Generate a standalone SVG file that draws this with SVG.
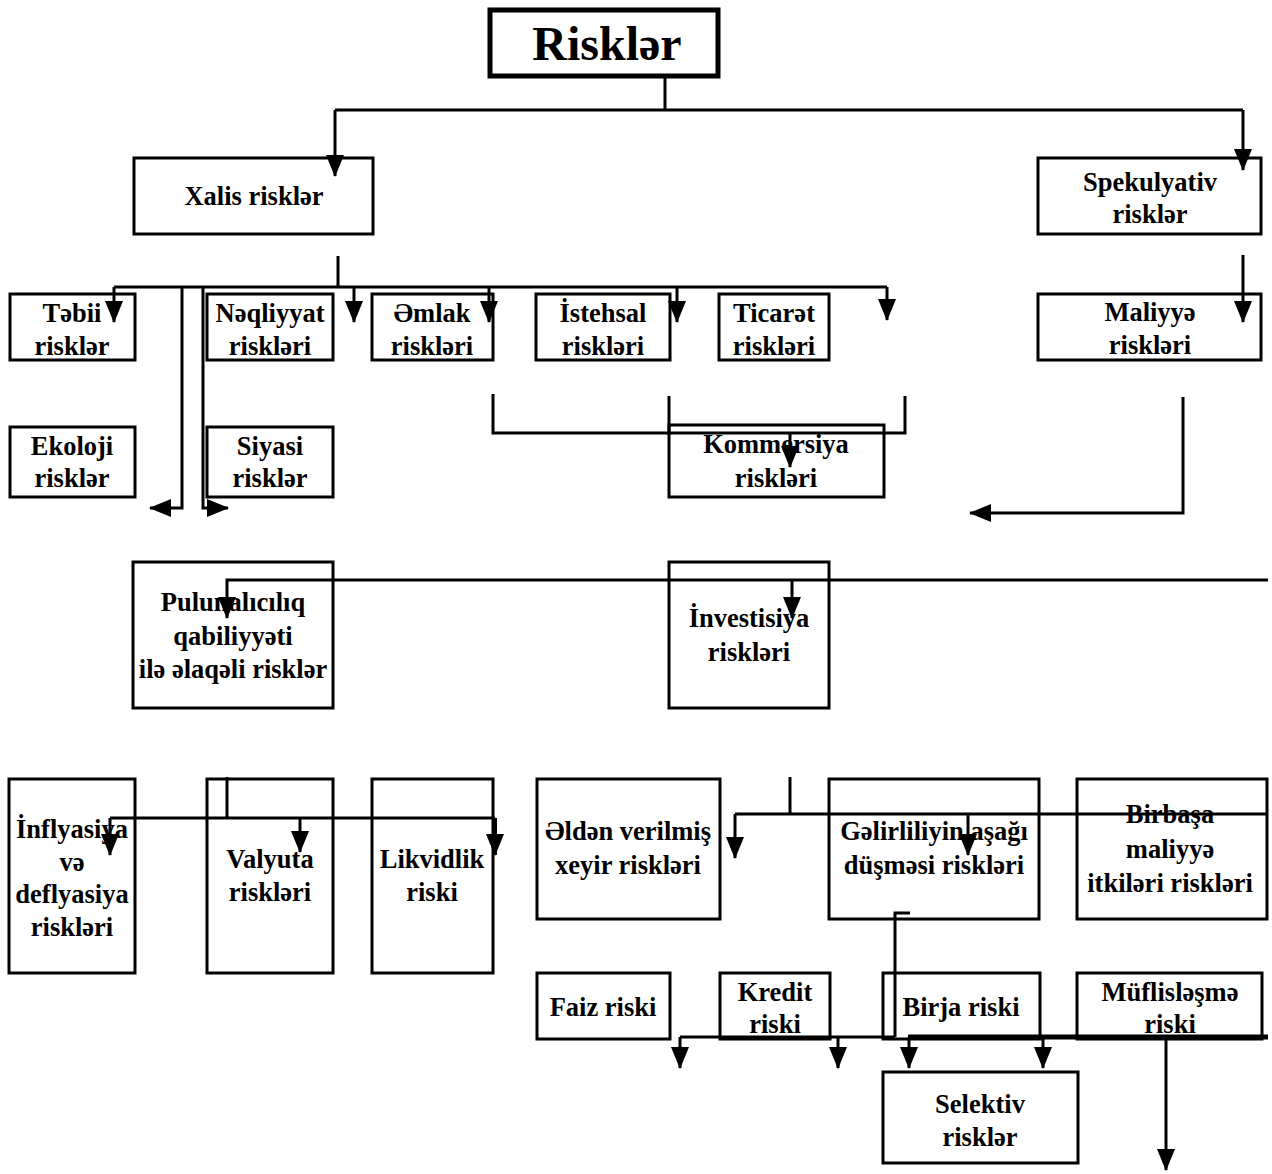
<svg xmlns="http://www.w3.org/2000/svg" width="1272" height="1174" viewBox="0 0 1272 1174">
<style>
.box{fill:#fff;stroke:#000;stroke-width:3}
.t{font-family:"Liberation Serif","Times New Roman",serif;font-weight:bold;font-size:26.5px;fill:#000;text-anchor:middle}
.c{fill:none;stroke:#000;stroke-width:3}
.a{fill:none;stroke:#000;stroke-width:3;marker-end:url(#ah)}
</style>
<defs>
<marker id="ah" viewBox="0 0 22 18" refX="21" refY="9" markerWidth="22" markerHeight="18" markerUnits="userSpaceOnUse" orient="auto">
<path d="M0,0 L22,9 L0,18 z" fill="#000"/>
</marker>
</defs>
<rect width="1272" height="1174" fill="#fff"/>
<g id="n-risk"><rect class="box" x="490" y="10" width="228" height="66" style="stroke-width:5"/><text class="t" x="607" y="60" style="font-size:48px">Risklər</text></g>
<g id="n-xalis"><rect class="box" x="134" y="158" width="239" height="76"/><text class="t" x="254" y="205">Xalis risklər</text></g>
<g id="n-spek"><rect class="box" x="1038" y="158" width="223" height="76"/><text class="t" x="1150" y="191">Spekulyativ</text><text class="t" x="1150" y="223">risklər</text></g>
<g id="n-tebii"><rect class="box" x="10" y="294" width="125" height="66"/><text class="t" x="72" y="322">Təbii</text><text class="t" x="72" y="355">risklər</text></g>
<g id="n-neq"><rect class="box" x="207" y="294" width="126" height="66"/><text class="t" x="270" y="322">Nəqliyyat</text><text class="t" x="270" y="355">riskləri</text></g>
<g id="n-emlak"><rect class="box" x="372" y="294" width="121" height="66"/><text class="t" x="432" y="322">Əmlak</text><text class="t" x="432" y="355">riskləri</text></g>
<g id="n-istehsal"><rect class="box" x="536" y="294" width="134" height="66"/><text class="t" x="603" y="322">İstehsal</text><text class="t" x="603" y="355">riskləri</text></g>
<g id="n-ticaret"><rect class="box" x="719" y="294" width="110" height="66"/><text class="t" x="774" y="322">Ticarət</text><text class="t" x="774" y="355">riskləri</text></g>
<g id="n-maliyye"><rect class="box" x="1038" y="294" width="223" height="66"/><text class="t" x="1150" y="321">Maliyyə</text><text class="t" x="1150" y="354">riskləri</text></g>
<g id="n-ekoloji"><rect class="box" x="10" y="427" width="125" height="70"/><text class="t" x="72" y="455">Ekoloji</text><text class="t" x="72" y="487">risklər</text></g>
<g id="n-siyasi"><rect class="box" x="207" y="427" width="126" height="70"/><text class="t" x="270" y="455">Siyasi</text><text class="t" x="270" y="487">risklər</text></g>
<g id="n-kom"><rect class="box" x="669" y="425" width="215" height="72"/><text class="t" x="776" y="453">Kommersiya</text><text class="t" x="776" y="487">riskləri</text></g>
<g id="n-pul"><rect class="box" x="133" y="562" width="200" height="146"/><text class="t" x="233" y="611">Pulunalıcılıq</text><text class="t" x="233" y="645">qabiliyyəti</text><text class="t" x="233" y="678">ilə əlaqəli risklər</text></g>
<g id="n-inv"><rect class="box" x="669" y="562" width="160" height="146"/><text class="t" x="749" y="627">İnvestisiya</text><text class="t" x="749" y="661">riskləri</text></g>
<g id="n-infl"><rect class="box" x="9" y="779" width="126" height="194"/><text class="t" x="72" y="838">İnflyasiya</text><text class="t" x="72" y="871">və</text><text class="t" x="72" y="903">deflyasiya</text><text class="t" x="72" y="936">riskləri</text></g>
<g id="n-val"><rect class="box" x="207" y="779" width="126" height="194"/><text class="t" x="270" y="868">Valyuta</text><text class="t" x="270" y="901">riskləri</text></g>
<g id="n-likv"><rect class="box" x="372" y="779" width="121" height="194"/><text class="t" x="432" y="868">Likvidlik</text><text class="t" x="432" y="901">riski</text></g>
<g id="n-elden"><rect class="box" x="537" y="779" width="183" height="140"/><text class="t" x="628" y="840">Əldən verilmiş</text><text class="t" x="628" y="874">xeyir riskləri</text></g>
<g id="n-gelir"><rect class="box" x="829" y="779" width="210" height="140"/><text class="t" x="934" y="840">Gəlirliliyin aşağı</text><text class="t" x="934" y="874">düşməsi riskləri</text></g>
<g id="n-birbasa"><rect class="box" x="1077" y="779" width="190" height="140"/><text class="t" x="1170" y="823">Birbaşa</text><text class="t" x="1170" y="858">maliyyə</text><text class="t" x="1170" y="892">itkiləri riskləri</text></g>
<g id="n-faiz"><rect class="box" x="537" y="973" width="133" height="66"/><text class="t" x="603" y="1016">Faiz riski</text></g>
<g id="n-kredit"><rect class="box" x="720" y="973" width="110" height="66"/><text class="t" x="775" y="1001">Kredit</text><text class="t" x="775" y="1033">riski</text></g>
<g id="n-birja"><rect class="box" x="883" y="973" width="157" height="66"/><text class="t" x="961" y="1016">Birja riski</text></g>
<g id="n-mufl"><rect class="box" x="1077" y="973" width="185" height="66"/><text class="t" x="1170" y="1001">Müflisləşmə</text><text class="t" x="1170" y="1033">riski</text></g>
<g id="n-selektiv"><rect class="box" x="883" y="1072" width="195" height="91"/><text class="t" x="980" y="1113">Selektiv</text><text class="t" x="980" y="1146">risklər</text></g>
<g id="connectors">
<path class="c" d="M665,78 V110 M335,110 H1243"/>
<path class="a" d="M335,110 V176"/>
<path class="a" d="M1243,110 V170"/>
<path class="c" d="M338,256 V287 M114,287 H887"/>
<path class="a" d="M114,287 V322"/>
<path class="a" d="M354,287 V322"/>
<path class="a" d="M489,287 V322"/>
<path class="a" d="M677,287 V322"/>
<path class="a" d="M887,287 V320"/>
<path class="a" d="M182,287 V508 H150"/>
<path class="a" d="M203,287 V508 H228"/>
<path class="a" d="M1243,255 V322"/>
<path class="a" d="M1183,397 V513 H970"/>
<path class="c" d="M493,394 V433 H905 V396 M669,396 V433"/>
<path class="a" d="M790,433 V467"/>
<path class="a" d="M1268,580 H227 V618"/>
<path class="a" d="M792,580 V618"/>
<path class="c" d="M227,777 V818 M110,818 H495"/>
<path class="a" d="M110,818 V855"/>
<path class="a" d="M300,818 V852"/>
<path class="a" d="M495,818 V855" style="stroke-width:4"/>
<path class="c" d="M790,777 V814 M735,814 H1268"/>
<path class="a" d="M735,814 V858"/>
<path class="a" d="M968,814 V855"/>
<path class="c" d="M910,913 H895 V1037 M680,1037 H895"/>
<path class="c" d="M908,1037 H1268" style="stroke-width:5"/>
<path class="a" d="M680,1037 V1068"/>
<path class="a" d="M838,1037 V1068"/>
<path class="a" d="M909,1037 V1068"/>
<path class="a" d="M1043,1037 V1068"/>
<path class="a" d="M1166,1037 V1170"/>
</g>
</svg>
